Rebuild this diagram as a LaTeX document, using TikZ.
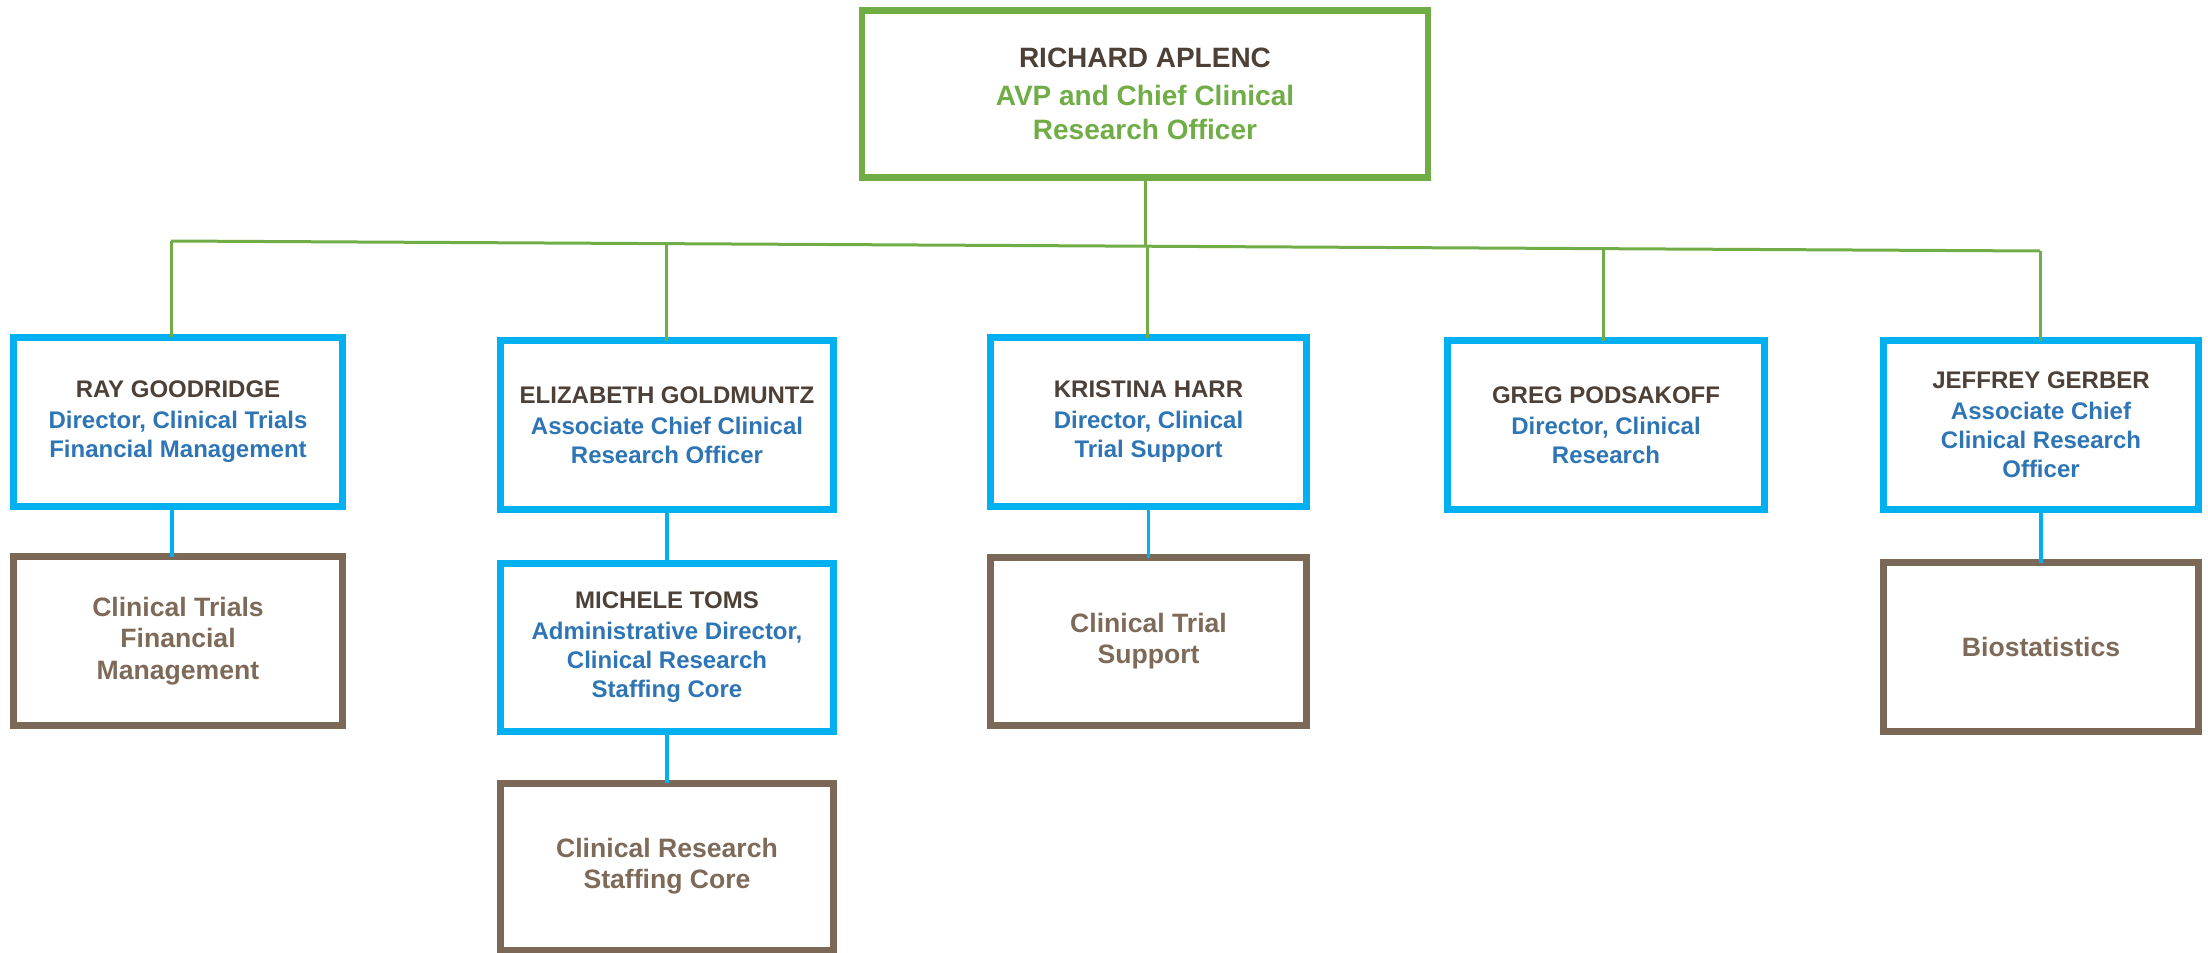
\documentclass[tikz,border=0pt]{standalone}
\usepackage{fontspec}
\setmainfont{Liberation Sans}
\definecolor{lgreen}{RGB}{112,173,71}
\definecolor{lcyan}{RGB}{0,176,240}
\definecolor{lbrown}{RGB}{124,104,86}
\definecolor{tbrown}{RGB}{126,106,88}
\definecolor{namec}{RGB}{77,64,54}
\definecolor{titlec}{RGB}{46,117,182}
\newcommand{\nm}[1]{{\color{namec}#1}}
\newcommand{\ttl}[1]{{\color{titlec}#1}}
\begin{document}
\begin{tikzpicture}[x=0.5pt,y=-0.5pt,
  every node/.style={inner sep=0pt, outer sep=0pt, align=center, font=\bfseries\fontsize{12}{14.5}\selectfont},
  topbox/.style={draw=lgreen, line width=3.2pt, minimum width=283pt, minimum height=83.5pt, font=\bfseries\fontsize{14}{17}\selectfont},
  person/.style={draw=lcyan, line width=3.5pt, minimum height=84.5pt},
  unitbox/.style={draw=lbrown, line width=3.5pt, minimum height=84.5pt, text=tbrown, font=\bfseries\fontsize{13.3}{15.6}\selectfont},
  gline/.style={draw=lgreen, line width=1.5pt},
  bline/.style={draw=lcyan, line width=1.7pt}]
\useasboundingbox (0,0) rectangle (2208,953);

% top
\node[topbox] (top) at (1145,94) {\nm{RICHARD APLENC}\\[2pt]{\color{lgreen}AVP and Chief Clinical}\\{\color{lgreen}Research Officer}};

% row 1
\node[person, minimum width=164.5pt] (ray) at (178,421.5) {\nm{RAY GOODRIDGE}\\[1pt]\ttl{Director, Clinical Trials}\\\ttl{Financial Management}};
\node[person, minimum width=166.5pt] (eliz) at (667,425) {\nm{ELIZABETH GOLDMUNTZ}\\[1pt]\ttl{Associate Chief Clinical}\\\ttl{Research Officer}};
\node[person, minimum width=158pt] (kris) at (1148.5,422) {\nm{KRISTINA HARR}\\[1pt]\ttl{Director, Clinical}\\\ttl{Trial Support}};
\node[person, minimum width=158.5pt] (greg) at (1606,425) {\nm{GREG PODSAKOFF}\\[1pt]\ttl{Director, Clinical}\\\ttl{Research}};
\node[person, minimum width=157.5pt] (jeff) at (2041,425) {\nm{JEFFREY GERBER}\\[1pt]\ttl{Associate Chief}\\\ttl{Clinical Research}\\\ttl{Officer}};

% row 2
\node[unitbox, minimum width=164.5pt] (ctfm) at (178,641) {Clinical Trials\\Financial\\Management};
\node[person, minimum width=166.5pt, minimum height=84pt] (mich) at (667,647.5) {\nm{MICHELE TOMS}\\[1pt]\ttl{Administrative Director,}\\\ttl{Clinical Research}\\\ttl{Staffing Core}};
\node[unitbox, minimum width=158pt, minimum height=84pt] (cts) at (1148.5,641.5) {Clinical Trial\\Support};
\node[unitbox, minimum width=157.5pt] (bio) at (2041,647) {Biostatistics};

% row 3
\node[unitbox, minimum width=166.5pt, minimum height=83.5pt] (crsc) at (667,866.5) {Clinical Research\\Staffing Core};

% green connectors
\coordinate (gl) at (171,241);
\coordinate (gr) at (2040,251);
\coordinate (g2) at (666,243.6);
\coordinate (g3) at (1147,246.2);
\coordinate (g4) at (1603,248.7);
\coordinate (gt) at (1145,246.2);
\draw[gline] (gl) -- (gr);
\draw[gline] (top.south) -- (gt);
\draw[gline] (gl) -- (gl |- ray.north);
\draw[gline] (g2) -- (g2 |- eliz.north);
\draw[gline] (g3) -- (g3 |- kris.north);
\draw[gline] (g4) -- (g4 |- greg.north);
\draw[gline] (gr) -- (gr |- jeff.north);

% blue connectors
\coordinate (b1) at (172,0);
\draw[bline] (b1 |- ray.south) -- (b1 |- ctfm.north);
\draw[bline] (eliz.south) -- (mich.north);
\draw[bline] (mich.south) -- (crsc.north);
\draw[bline] (kris.south) -- (cts.north);
\draw[bline] (jeff.south) -- (bio.north);
\end{tikzpicture}
\end{document}
